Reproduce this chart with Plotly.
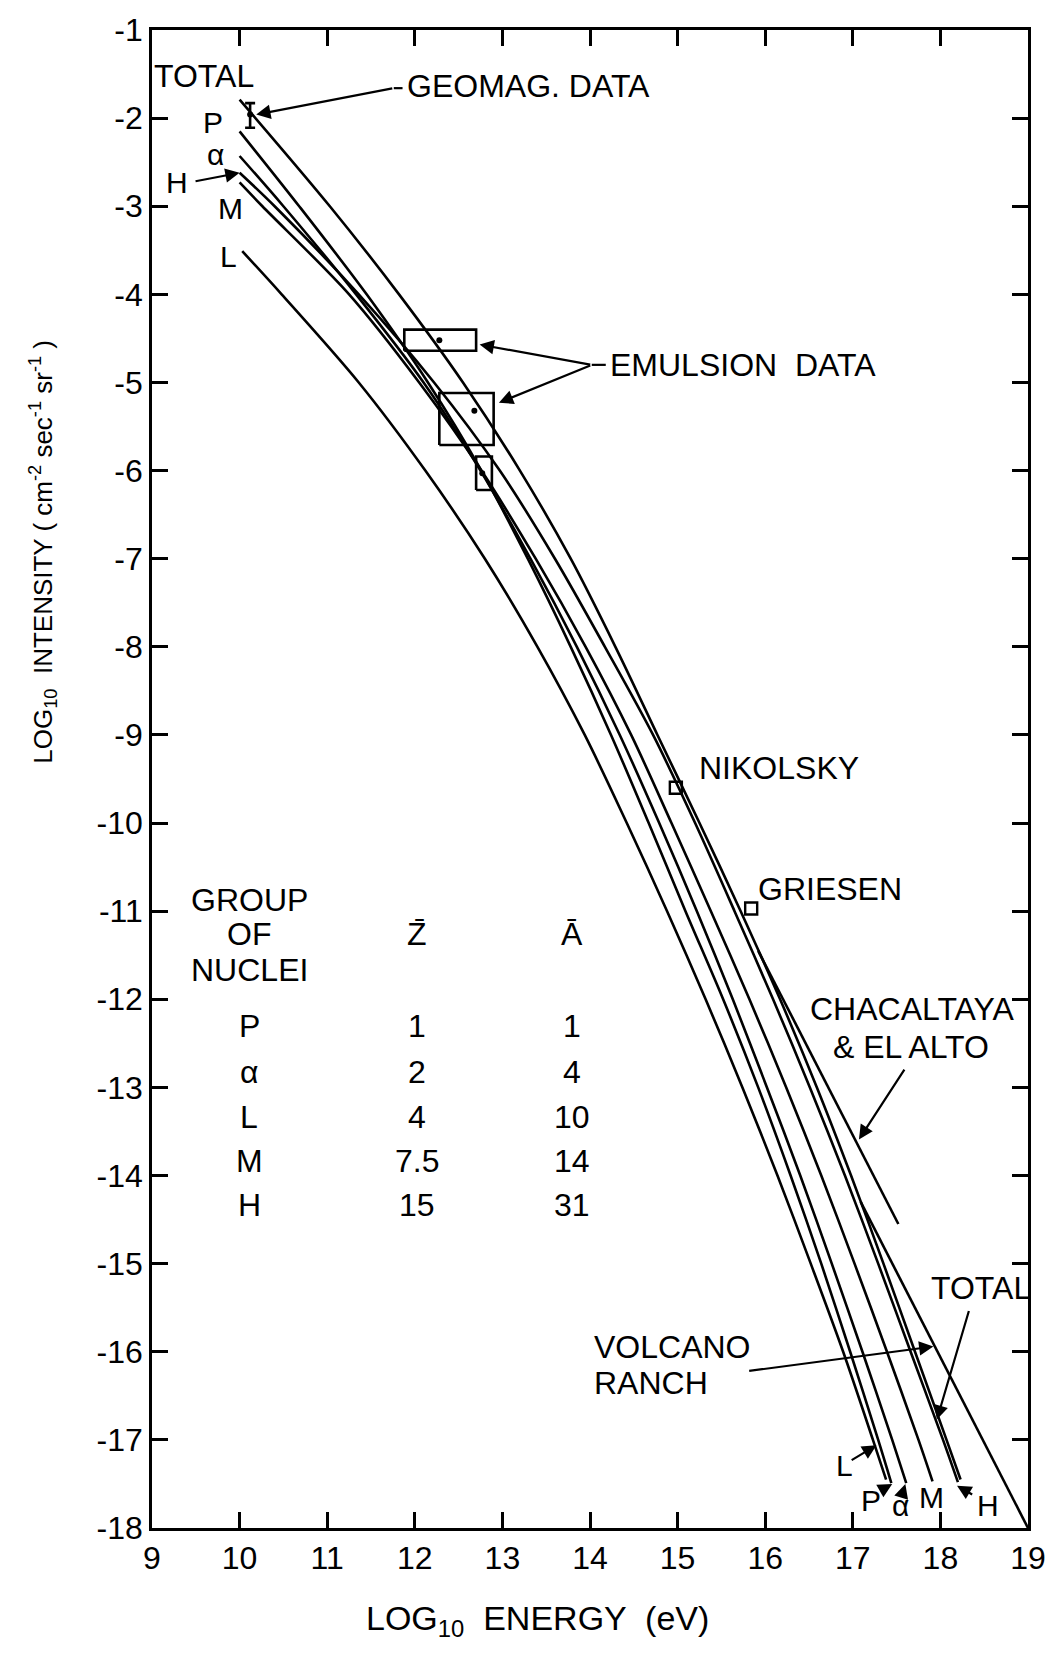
import plotly.graph_objects as go

# ---------------- data (log10 energy in eV, log10 integral intensity) ----------------
X_TICKS = list(range(9, 20))
X_TICK_TEXT = [str(v) for v in X_TICKS]
Y_TICKS = list(range(-18, 0))
Y_TICK_TEXT = ["-" + str(abs(v)) for v in Y_TICKS]

TOTAL_E = [10.0, 11.03, 11.82, 12.55, 13.20, 13.78, 14.29, 14.77, 15.25, 15.72, 16.17, 16.59, 16.98, 17.35, 17.71, 18.07, 18.23]
TOTAL_I = [-1.79, -3.0, -4.0, -5.0, -6.0, -7.0, -8.0, -9.0, -10.0, -11.0, -12.0, -13.0, -14.0, -15.0, -16.0, -17.0, -17.45]

H_E = [10.0, 10.40, 11.36, 12.22, 12.97, 13.60, 14.17, 14.72, 15.20, 15.65, 16.09, 16.51, 16.91, 17.29, 17.66, 18.03, 18.20]
H_I = [-2.62, -3.0, -4.0, -5.0, -6.0, -7.0, -8.0, -9.0, -10.0, -11.0, -12.0, -13.0, -14.0, -15.0, -16.0, -17.0, -17.48]

M_E = [10.0, 10.26, 11.25, 12.05, 12.76, 13.38, 13.95, 14.47, 14.93, 15.38, 15.82, 16.24, 16.64, 17.02, 17.39, 17.75, 17.91]
M_I = [-2.73, -3.0, -4.0, -5.0, -6.0, -7.0, -8.0, -9.0, -10.0, -11.0, -12.0, -13.0, -14.0, -15.0, -16.0, -17.0, -17.47]

ALPHA_E = [10.0, 10.50, 11.33, 12.10, 12.75, 13.32, 13.85, 14.34, 14.79, 15.22, 15.63, 16.02, 16.40, 16.76, 17.11, 17.45, 17.61]
ALPHA_I = [-2.43, -3.0, -4.0, -5.0, -6.0, -7.0, -8.0, -9.0, -10.0, -11.0, -12.0, -13.0, -14.0, -15.0, -16.0, -17.0, -17.49]

P_E = [10.0, 10.68, 11.45, 12.15, 12.76, 13.29, 13.78, 14.24, 14.67, 15.09, 15.52, 15.92, 16.29, 16.64, 16.97, 17.29, 17.44]
P_I = [-2.15, -3.0, -4.0, -5.0, -6.0, -7.0, -8.0, -9.0, -10.0, -11.0, -12.0, -13.0, -14.0, -15.0, -16.0, -17.0, -17.49]

L_E = [10.03, 10.48, 11.36, 12.12, 12.80, 13.40, 13.94, 14.42, 14.88, 15.32, 15.74, 16.14, 16.52, 16.89, 17.23, 17.38]
L_I = [-3.51, -4.0, -5.0, -6.0, -7.0, -8.0, -9.0, -10.0, -11.0, -12.0, -13.0, -14.0, -15.0, -16.0, -17.0, -17.45]

CHAC_E = [15.92, 17.52]
CHAC_I = [-11.45, -14.55]

VR_E = [17.09, 19.0]
VR_I = [-14.30, -18.0]

GEO_E = [10.12]
GEO_I = [-1.96]
GEO_UP = [0.13]
GEO_DN = [0.15]

EMUL_X0 = [11.88, 12.28, 12.70]
EMUL_X1 = [12.70, 12.90, 12.88]
EMUL_Y0 = [-4.64, -5.71, -6.22]
EMUL_Y1 = [-4.40, -5.12, -5.84]
EMUL_DOT_E = [12.28, 12.68, 12.77]
EMUL_DOT_I = [-4.52, -5.32, -6.03]

NIK_E = [14.98]
NIK_I = [-9.60]
GRI_E = [15.84]
GRI_I = [-10.97]

GROUPS = ["P", "α", "L", "M", "H"]
Z_BAR = ["1", "2", "4", "7.5", "15"]
A_BAR = ["1", "4", "10", "14", "31"]

# ---------------- figure ----------------
FONT = "Liberation Sans, Arial, sans-serif"
FS = 32
FS_LETTER = 30
BLACK = "black"

fig = go.Figure()


def curve(xs, ys, w=2.6, shape="spline"):
    fig.add_trace(go.Scatter(x=xs, y=ys, mode="lines",
                             line=dict(color=BLACK, width=w, shape=shape, smoothing=0.9),
                             showlegend=False, hoverinfo="skip"))


for xs, ys in [(TOTAL_E, TOTAL_I), (P_E, P_I), (ALPHA_E, ALPHA_I),
               (H_E, H_I), (M_E, M_I), (L_E, L_I)]:
    curve(xs, ys)
curve(CHAC_E, CHAC_I, shape="linear")
curve(VR_E, VR_I, shape="linear")

# geomagnetic data point with error bar
fig.add_trace(go.Scatter(x=GEO_E, y=GEO_I, mode="markers",
                         marker=dict(color=BLACK, size=6),
                         error_y=dict(type="data", array=GEO_UP, arrayminus=GEO_DN,
                                      color=BLACK, thickness=2.6, width=5),
                         showlegend=False, hoverinfo="skip"))

# emulsion boxes
for x0, x1, y0, y1 in zip(EMUL_X0, EMUL_X1, EMUL_Y0, EMUL_Y1):
    fig.add_trace(go.Scatter(x=[x0, x1, x1, x0, x0], y=[y0, y0, y1, y1, y0], mode="lines",
                             line=dict(color=BLACK, width=2.6),
                             showlegend=False, hoverinfo="skip"))
fig.add_trace(go.Scatter(x=EMUL_DOT_E, y=EMUL_DOT_I, mode="markers",
                         marker=dict(color=BLACK, size=6),
                         showlegend=False, hoverinfo="skip"))

# Nikolsky / Griesen squares
fig.add_trace(go.Scatter(x=NIK_E + GRI_E, y=NIK_I + GRI_I, mode="markers",
                         marker=dict(symbol="square-open", size=12, color=BLACK,
                                     line=dict(width=2.4, color=BLACK)),
                         showlegend=False, hoverinfo="skip"))

# bent leader lines
curve([11.76, 11.86], [-1.66, -1.66], w=2.2, shape="linear")
curve([14.02, 14.18], [-4.80, -4.80], w=2.2, shape="linear")

ann = []


def label(x, y, text, xanchor="center", size=FS):
    ann.append(dict(x=x, y=y, xref="x", yref="y", text=text, showarrow=False,
                    xanchor=xanchor, yanchor="middle",
                    font=dict(family=FONT, size=size, color=BLACK)))


def arrow(tx, ty, hx, hy):
    ann.append(dict(x=hx, y=hy, ax=tx, ay=ty, xref="x", yref="y", axref="x", ayref="y",
                    text="", showarrow=True, arrowhead=2, arrowsize=1.3,
                    arrowwidth=2.2, arrowcolor=BLACK, standoff=0, startstandoff=0))


# upper-left labels
label(9.59, -1.52, "TOTAL")
label(9.70, -2.05, "P", size=FS_LETTER)
label(9.72, -2.41, "α", size=FS_LETTER)
label(9.28, -2.73, "H", size=FS_LETTER)
label(9.90, -3.03, "M", size=FS_LETTER)
label(9.87, -3.57, "L", size=FS_LETTER)
arrow(9.48, -2.72, 10.0, -2.62)

label(11.89, -1.64, "GEOMAG. DATA", xanchor="left")
arrow(11.76, -1.66, 10.19, -1.96)

label(14.21, -4.80, "EMULSION  DATA", xanchor="left")
arrow(14.02, -4.80, 12.74, -4.57)
arrow(14.02, -4.80, 12.96, -5.23)

label(15.22, -9.38, "NIKOLSKY", xanchor="left")
label(15.90, -10.75, "GRIESEN", xanchor="left")

label(17.68, -12.11, "CHACALTAYA")
label(17.66, -12.54, "& EL ALTO")
arrow(17.60, -12.78, 17.07, -13.59)

label(18.46, -15.28, "TOTAL")
arrow(18.33, -15.52, 17.96, -16.77)

label(14.02, -15.95, "VOLCANO", xanchor="left")
label(14.02, -16.36, "RANCH", xanchor="left")
arrow(15.80, -16.22, 17.92, -15.94)

# lower-right component labels
label(16.90, -17.29, "L", size=FS_LETTER)
arrow(16.97, -17.24, 17.27, -17.06)
label(17.21, -17.69, "P", size=FS_LETTER)
arrow(17.31, -17.58, 17.45, -17.50)
label(17.55, -17.74, "α", size=FS_LETTER)
arrow(17.56, -17.63, 17.60, -17.50)
label(17.90, -17.65, "M", size=FS_LETTER)
label(18.54, -17.74, "H", size=FS_LETTER)
arrow(18.38, -17.63, 18.19, -17.52)

# table
label(10.11, -10.87, "GROUP")
label(10.11, -11.26, "OF")
label(10.11, -11.67, "NUCLEI")
label(12.02, -11.26, "Z\u0304")
label(13.79, -11.26, "A\u0304")
ROW_Y = [-12.30, -12.83, -13.34, -13.84, -14.34]
for g, z, a, ry in zip(GROUPS, Z_BAR, A_BAR, ROW_Y):
    label(10.11, ry, g)
    label(12.02, ry, z)
    label(13.79, ry, a)

# axis titles
ann.append(dict(x=0.44, y=-0.062, xref="paper", yref="paper", showarrow=False,
                text="LOG<sub>10</sub>  ENERGY  (eV)", xanchor="center", yanchor="middle",
                font=dict(family=FONT, size=34, color=BLACK)))
ann.append(dict(x=-0.124, y=0.652, xref="paper", yref="paper", showarrow=False,
                textangle=-90,
                text="LOG<sub>10</sub>  INTENSITY ( cm<sup>-2</sup> sec<sup>-1</sup> sr<sup>-1</sup> )",
                xanchor="center", yanchor="middle",
                font=dict(family=FONT, size=26, color=BLACK)))

fig.update_layout(
    width=1058, height=1656,
    margin=dict(l=152, r=20, t=23, b=128),
    paper_bgcolor="white", plot_bgcolor="white",
    font=dict(family=FONT, size=FS, color=BLACK),
    annotations=ann,
    showlegend=False,
)
fig.update_xaxes(range=[9, 19], tickvals=X_TICKS, ticktext=X_TICK_TEXT,
                 showgrid=False, zeroline=False, showline=True, linecolor=BLACK, linewidth=2.6,
                 mirror="allticks", ticks="inside", ticklen=16, tickwidth=2.6, tickcolor=BLACK,
                 ticklabeloverflow="allow",
                 tickfont=dict(family=FONT, size=FS, color=BLACK))
fig.update_yaxes(range=[-18, -1], tickvals=Y_TICKS, ticktext=Y_TICK_TEXT,
                 showgrid=False, zeroline=False, showline=True, linecolor=BLACK, linewidth=2.6,
                 mirror="allticks", ticks="inside", ticklen=16, tickwidth=2.6, tickcolor=BLACK,
                 ticklabeloverflow="allow",
                 tickfont=dict(family=FONT, size=FS, color=BLACK))

fig.write_html("out.html",
               config={"displayModeBar": False},
               post_script="document.body.style.margin='0px';document.body.style.padding='0px';")
